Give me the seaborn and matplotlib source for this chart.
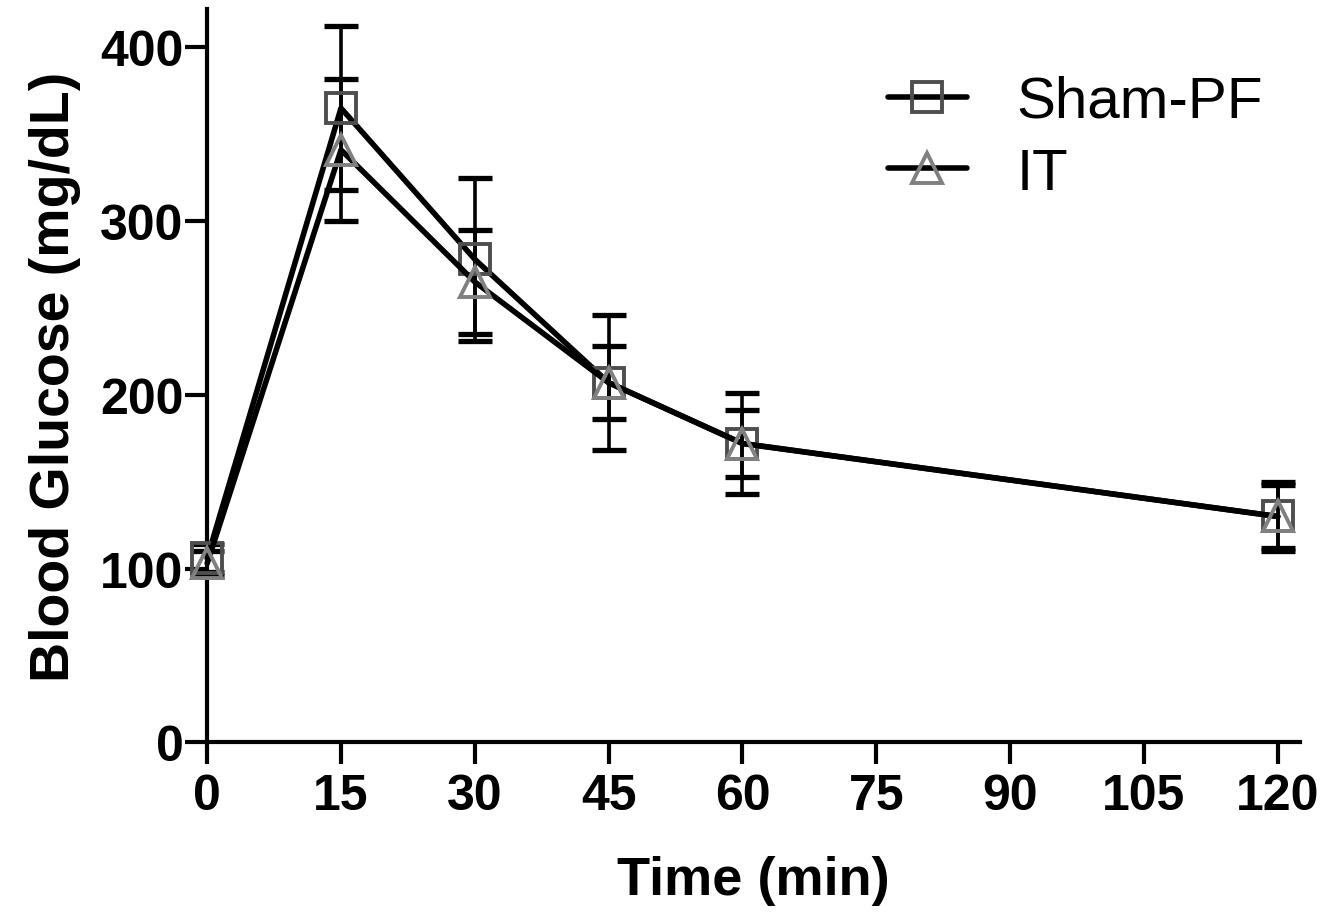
import numpy as np
import pandas as pd
import matplotlib
matplotlib.use("Agg")
import matplotlib.pyplot as plt
import seaborn as sns

# values (mean, SEM)
time_min = [0, 15, 30, 45, 60, 120]
sham_mean = [106, 365, 278, 207, 172, 130]
sham_err = [8, 47, 47, 39, 29, 20]
it_mean = [103, 341, 265, 207, 172, 130]
it_err = [7, 41, 30, 21, 19, 18]
x_ticks = [0, 15, 30, 45, 60, 75, 90, 105, 120]
y_ticks = [0, 100, 200, 300, 400]

df = pd.concat([
    pd.DataFrame({'Time': time_min, 'Glucose': sham_mean, 'SEM': sham_err, 'Group': 'Sham-PF'}),
    pd.DataFrame({'Time': time_min, 'Glucose': it_mean, 'SEM': it_err, 'Group': 'IT'}),
])

sns.set_style("ticks")
plt.rcParams['font.family'] = ['Liberation Sans', 'DejaVu Sans']
for key in ['text.color', 'axes.labelcolor', 'xtick.color', 'ytick.color', 'axes.edgecolor']:
    plt.rcParams[key] = 'black'

fig = plt.figure(figsize=(13.28, 9.2), dpi=100)
ax = fig.add_axes([0.156, 0.192, 0.823, 0.797])

markers = {'Sham-PF': 's', 'IT': '^'}
edge = {'Sham-PF': '#4e4e4e', 'IT': '#808080'}

for grp in ['Sham-PF', 'IT']:
    sub = df[df['Group'] == grp]
    ax.errorbar(sub['Time'], sub['Glucose'], yerr=sub['SEM'], fmt='none',
                ecolor='black', elinewidth=2.6, capsize=12.5, capthick=3.8,
                zorder=2, clip_on=False)
    sns.lineplot(data=sub, x='Time', y='Glucose', ax=ax, color='black',
                 linewidth=4, marker=markers[grp], markersize=22,
                 markerfacecolor='none', markeredgecolor=edge[grp],
                 markeredgewidth=2.8, label=grp, zorder=3, clip_on=False)

ax.set_xlim(0, 122.5)
ax.set_ylim(0, 422)
ax.set_xticks(x_ticks)
ax.set_yticks(y_ticks)
ax.tick_params(axis='both', direction='out', length=16, width=3, labelsize=36)
ax.tick_params(axis='y', pad=1)
ax.tick_params(axis='x', pad=6)
for lab in ax.get_xticklabels() + ax.get_yticklabels():
    lab.set_fontweight('bold')

ax.spines['left'].set_linewidth(3)
ax.spines['bottom'].set_linewidth(3)
sns.despine(ax=ax)

ax.set_xlabel('Time (min)', fontsize=39, fontweight='bold', labelpad=26)
ax.set_ylabel('Blood Glucose (mg/dL)', fontsize=40, fontweight='bold', labelpad=14)

leg = ax.legend(loc='upper left', bbox_to_anchor=(888 / 1328, 1 - 76 / 920),
                bbox_transform=fig.transFigure, frameon=False,
                fontsize=42, handlelength=1.35, handletextpad=0.85,
                labelspacing=0.3, borderaxespad=0, borderpad=0)

fig.savefig('out.png', dpi=100)
